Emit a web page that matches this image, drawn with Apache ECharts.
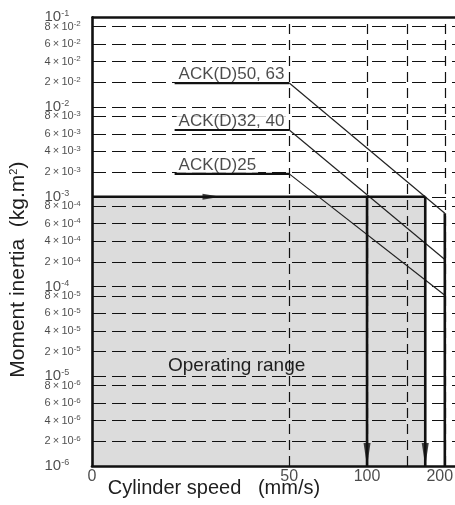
<!DOCTYPE html>
<html><head><meta charset="utf-8">
<script src="https://cdn.jsdelivr.net/npm/echarts@6/dist/echarts.min.js"></script>
<style>html,body{margin:0;padding:0;background:#fff}#c{width:455px;height:505px}</style>
</head><body><div id="c"></div>
<script>
// ---------------- data ----------------
const X_MIN = 8.62, X_MAX = 219;          // speed axis range (left edge is labelled "0")
const Y_MIN = 1e-6, Y_MAX = 1e-1;         // inertia axis range
const X_TICK_VALUES = [X_MIN, 50, 100, 200];
const X_TICK_LABELS = ['0', '50', '100', '200'];
const X_GRID_VALUES = [50, 100, 143, 200];
const Y_DECADES = [-6, -5, -4, -3, -2, -1];
const Y_MANTISSAS = ['2', '4', '6', '8'];
const Y_MANTISSA_POS = [0.275, 0.505, 0.70, 0.895]; // where the reference draws 2/4/6/8 inside a decade (log fraction)

const MODELS = ['ACK(D)50, 63', 'ACK(D)32, 40', 'ACK(D)25'];
const FLAT_START = [18, 18, 18];
const KNEE_SPEED = [50, 50, 50];
const END_SPEED = [200, 200, 200];
const FLAT_INERTIA = [1.85e-2, 5.55e-3, 1.80e-3];
const END_INERTIA = [6.55e-4, 2.0e-4, 8.0e-5];

const LIMIT_INERTIA = 1e-3;
const LIMIT_SPEEDS = [100, 168];
const RANGE_MAX_SPEED = 168;
const ARROW_SPEED = 25;
const RANGE_LABEL = 'Operating range';
const X_NAME = 'Cylinder speed   (mm/s)';
const Y_NAME = 'Moment inertia  (kg.m{sup|2})';

// ---------------- build ----------------
const FONT = '"Liberation Sans", Arial, Helvetica, sans-serif';
const INK = '#111';
const TXT = '#1e1e1e';

const yTickData = [];
const yGridValues = [];
Y_DECADES.forEach(n => {
  yTickData.push({ value: [X_MIN, Math.pow(10, n)], name: '{b|10}{s|' + n + '}' });
  if (n > -6 && n < -1) yGridValues.push(Math.pow(10, n));
  if (n < -1) {
    Y_MANTISSAS.forEach((m, i) => {
      const v = Math.pow(10, n + Y_MANTISSA_POS[i]);
      yGridValues.push(v);
      yTickData.push({ value: [X_MIN, v], name: '{m|' + m + '\u2009\u00d7\u200910}{t|' + n + '}' });
    });
  }
});
const xTickData = X_TICK_VALUES.map((v, i) => ({
  value: [v, Y_MIN],
  name: i === X_TICK_VALUES.length - 1 ? '{r|' + X_TICK_LABELS[i] + '}' : '{n|' + X_TICK_LABELS[i] + '}'
}));

const H_DASH = { type: [14, 6], width: 1.2, color: INK };
const V_DASH = { type: [10, 6], width: 1.2, color: INK };
const gridLines = [];
yGridValues.forEach(v => gridLines.push([{ coord: [X_MIN, v], lineStyle: H_DASH }, { coord: [X_MAX, v] }]));
X_GRID_VALUES.forEach(v => gridLines.push([{ coord: [v, Y_MIN], lineStyle: V_DASH }, { coord: [v, Y_MAX] }]));
gridLines.push([{ coord: [X_MIN, Y_MAX], lineStyle: { type: 'solid', width: 2.6, color: INK } }, { coord: [X_MAX, Y_MAX] }]);

const series = [];
// shaded operating range
series.push({
  type: 'line', name: 'range', data: [], z: 0,
  markArea: {
    silent: true, z: 0, itemStyle: { color: '#dcdcdc' },
    label: { show: true, position: 'inside', offset: [-22, 34], fontSize: 19, fontFamily: FONT, color: TXT },
    data: [[{ xAxis: X_MIN, yAxis: Y_MIN, name: RANGE_LABEL }, { xAxis: RANGE_MAX_SPEED, yAxis: LIMIT_INERTIA }]]
  }
});
// tick labels + grid
series.push({
  type: 'scatter', name: 'yticks', data: yTickData, symbolSize: 1, clip: false, silent: true,
  itemStyle: { color: 'rgba(0,0,0,0)' }, z: 4,
  label: {
    show: true, position: 'left', distance: 47, align: 'left', verticalAlign: 'middle',
    formatter: p => p.name, color: TXT, fontFamily: FONT,
    rich: {
      b: { fontSize: 15, fontFamily: FONT, color: TXT, lineHeight: 16 },
      s: { fontSize: 9, fontFamily: FONT, color: TXT, verticalAlign: 'top', lineHeight: 10 },
      m: { fontSize: 11, fontFamily: FONT, color: TXT, lineHeight: 13 },
      t: { fontSize: 8, fontFamily: FONT, color: TXT, verticalAlign: 'top', lineHeight: 8 }
    }
  },
  markLine: { silent: true, precision: 20, symbol: ['none', 'none'], label: { show: false }, z: 1, animation: false, data: gridLines }
});
series.push({
  type: 'scatter', name: 'xticks', data: xTickData, symbolSize: 1, clip: false, silent: true,
  itemStyle: { color: 'rgba(0,0,0,0)' }, z: 4,
  label: {
    show: true, position: 'bottom', distance: 2, formatter: p => p.name,
    rich: {
      n: { fontSize: 16, fontFamily: FONT, color: TXT },
      r: { fontSize: 16, fontFamily: FONT, color: TXT, padding: [0, 10, 0, 0] }
    }
  }
});
// model curves
MODELS.forEach((m, i) => {
  series.push({
    type: 'line', name: m + ' flat', data: [[FLAT_START[i], FLAT_INERTIA[i]], [KNEE_SPEED[i], FLAT_INERTIA[i]]],
    symbol: 'none', clip: false, z: 3, lineStyle: { width: 2.2, color: INK }
  });
  series.push({
    type: 'line', name: m + ' slope', data: [[KNEE_SPEED[i], FLAT_INERTIA[i]], [END_SPEED[i], END_INERTIA[i]]],
    symbol: 'none', clip: false, z: 3, lineStyle: { width: 1.2, color: '#222' }
  });
});
series.push({
  type: 'scatter', name: 'model labels', symbolSize: 1, clip: false, silent: true, z: 2.5,
  itemStyle: { color: 'rgba(0,0,0,0)' },
  data: MODELS.map((m, i) => ({ value: [FLAT_START[i], FLAT_INERTIA[i]], name: m })),
  label: { show: true, position: 'top', align: 'left', distance: 0, offset: [2, 0], formatter: p => p.name,
           fontSize: 17, fontFamily: FONT, color: TXT, backgroundColor: '#fff', padding: [1, 2, 0, 2] }
});
// operating limit lines
series.push({
  type: 'line', name: 'limit', data: [[X_MIN, LIMIT_INERTIA], [RANGE_MAX_SPEED, LIMIT_INERTIA]],
  symbol: 'none', clip: false, z: 3, lineStyle: { width: 2.6, color: INK }
});
LIMIT_SPEEDS.forEach(s => {
  series.push({
    type: 'line', name: 'drop ' + s, data: [[s, LIMIT_INERTIA], [s, Y_MIN]],
    symbol: 'none', clip: false, z: 3, lineStyle: { width: 2.6, color: INK }
  });
});
series.push({
  type: 'line', name: 'end drop', data: [[END_SPEED[0], END_INERTIA[0]], [END_SPEED[0], Y_MIN]],
  symbol: 'none', clip: false, z: 3, lineStyle: { width: 2.6, color: INK }
});
series.push({
  type: 'scatter', name: 'down arrows', clip: false, silent: true, z: 5,
  data: LIMIT_SPEEDS.map(s => [s, Y_MIN]),
  symbol: 'triangle', symbolSize: [7, 23], symbolRotate: 180, symbolOffset: [0, -11.5],
  itemStyle: { color: INK }
});
series.push({
  type: 'scatter', name: 'right arrow', clip: false, silent: true, z: 5,
  data: [[ARROW_SPEED, LIMIT_INERTIA]],
  symbol: 'triangle', symbolSize: [6, 18], symbolRotate: -90,
  itemStyle: { color: INK }
});

const chart = echarts.init(document.getElementById('c'), null, { renderer: 'canvas' });
chart.setOption({
  animation: false,
  backgroundColor: '#fff',
  grid: { left: 92, top: 17.3, right: 0, bottom: 39, containLabel: false },
  xAxis: {
    type: 'log', logBase: 10, min: X_MIN, max: X_MAX, z: 6,
    axisLine: { show: true, onZero: false, lineStyle: { color: INK, width: 2.6 } },
    axisTick: { show: false }, axisLabel: { show: false }, splitLine: { show: false }, minorSplitLine: { show: false },
    name: X_NAME, nameLocation: 'middle', nameGap: 12,
    nameTextStyle: { fontSize: 20, fontFamily: FONT, color: TXT, padding: [0, 119, 0, 0], verticalAlign: 'top' }
  },
  yAxis: {
    type: 'log', logBase: 10, min: Y_MIN, max: Y_MAX, z: 6,
    axisLine: { show: true, onZero: false, lineStyle: { color: INK, width: 2.6 } },
    axisTick: { show: false }, axisLabel: { show: false }, splitLine: { show: false }, minorSplitLine: { show: false },
    name: Y_NAME, nameLocation: 'middle', nameRotate: 90, nameGap: 63,
    nameTextStyle: { fontSize: 21, fontFamily: FONT, color: TXT, padding: [0, 56, 0, 0],
      rich: { sup: { fontSize: 11, fontFamily: FONT, color: TXT, verticalAlign: 'top' } } }
  },
  series: series
});
</script></body></html>
